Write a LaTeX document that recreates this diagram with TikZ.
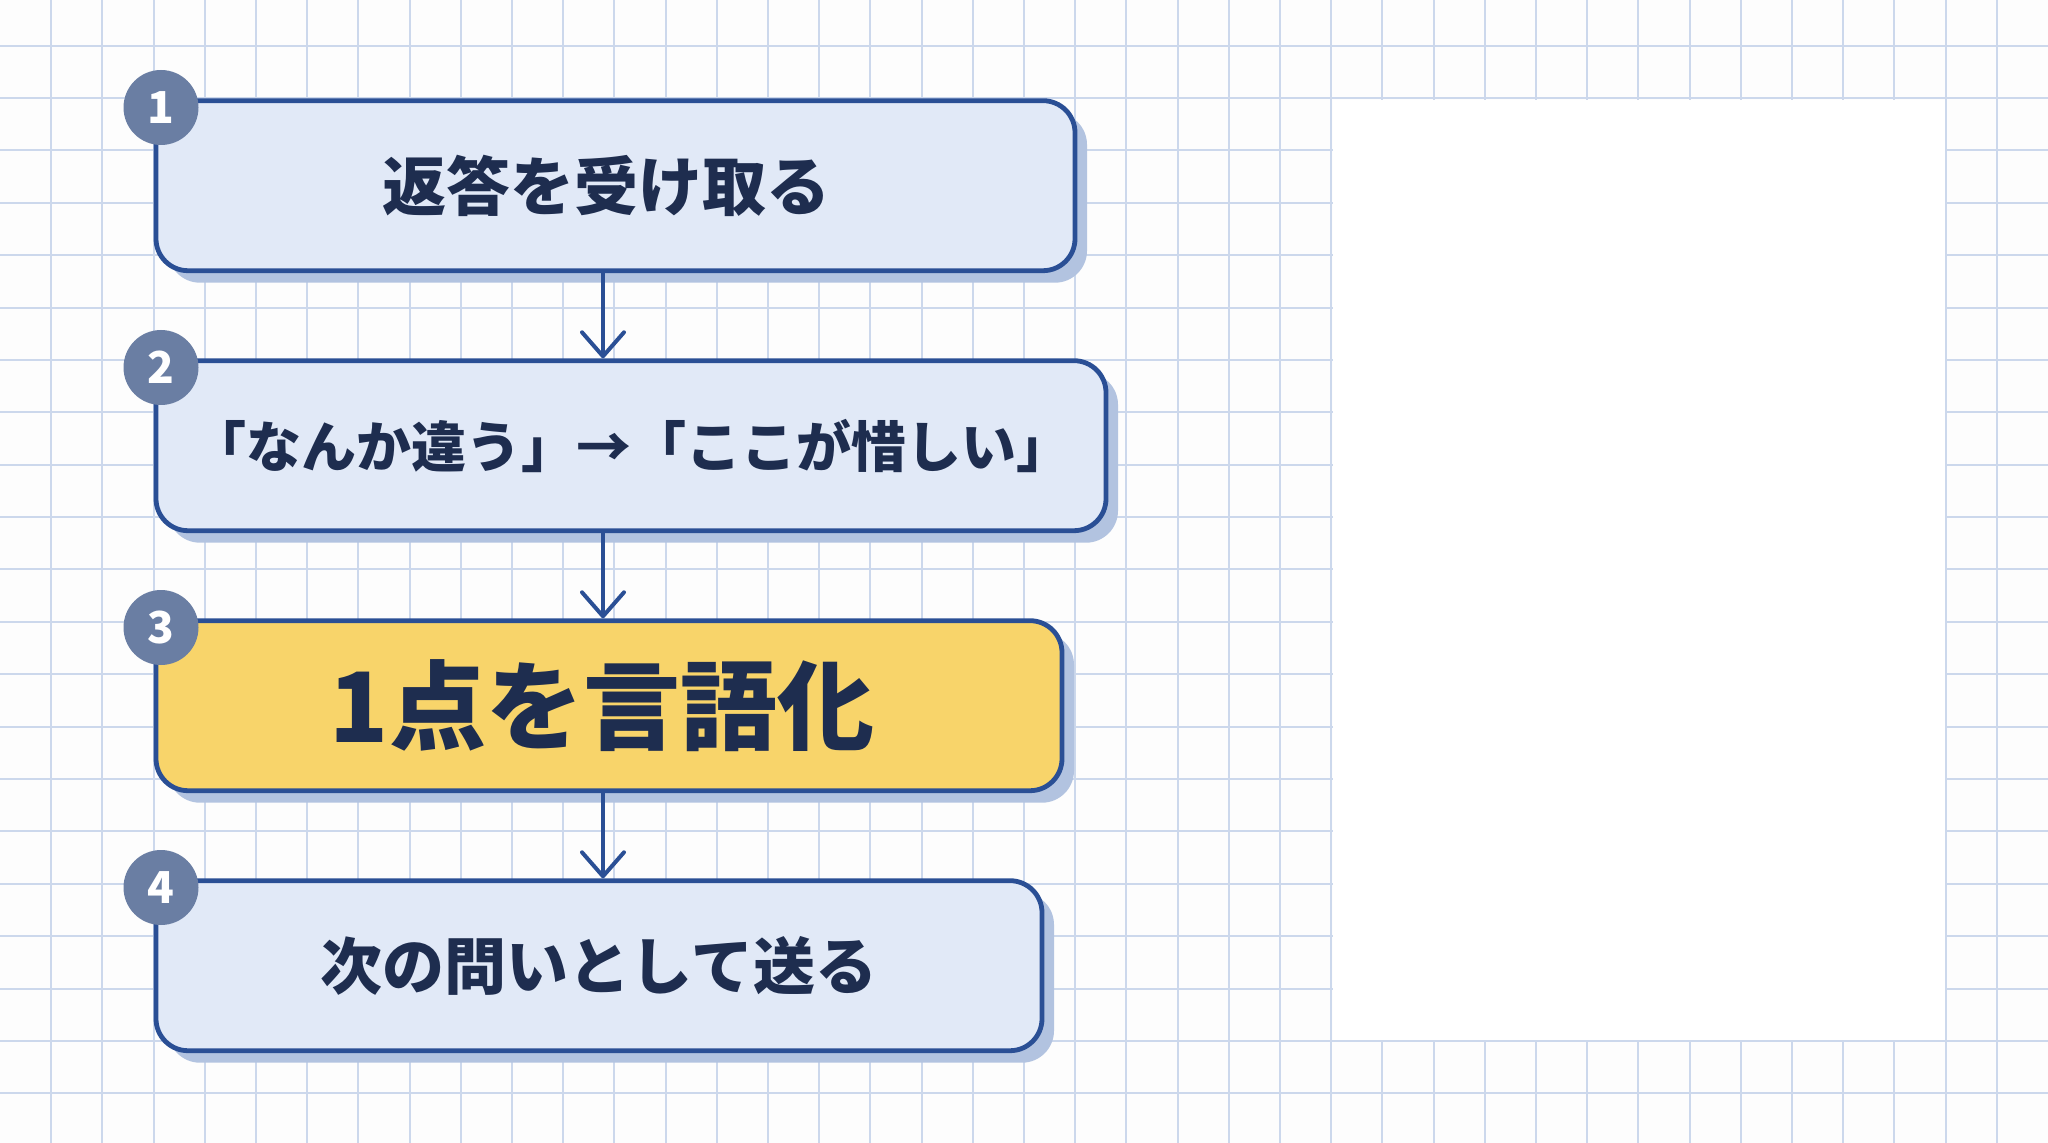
\documentclass[tikz,border=0pt]{standalone}
\usepackage{fontspec}
\newfontfamily\cjk{Noto Sans CJK JP}
\usetikzlibrary{arrows.meta,shadows}
\definecolor{gridc}{HTML}{CCD8EC}
\definecolor{boxfill}{HTML}{E1E9F7}
\definecolor{boxline}{HTML}{2A4F95}
\definecolor{shadowc}{HTML}{B2C3E0}
\definecolor{hlfill}{HTML}{F8D46A}
\definecolor{numc}{HTML}{6A7EA3}
\definecolor{txt}{HTML}{1E2D4F}
\definecolor{bg}{HTML}{FDFDFD}
\begin{document}
\begin{tikzpicture}[x=0.5pt,y=-0.5pt,
  stepbox/.style={draw=boxline, line width=2.4pt, rounded corners=16pt, fill=boxfill,
    minimum height=85pt, inner sep=0pt,
    drop shadow={shadow xshift=6pt, shadow yshift=-6pt, fill=shadowc, opacity=1},
    text=txt, font=\cjk\bfseries\fontsize{32pt}{36pt}\selectfont},
  numdot/.style={circle, fill=numc, minimum size=37.5pt, inner sep=0pt, text=white,
    font=\cjk\bfseries\fontsize{22pt}{24pt}\selectfont},
  flow/.style={draw=boxline, line width=2pt, -{Straight Barb[length=12pt,width=21pt,round]}},
  gridline/.style={draw=gridc, line width=1pt}]
\useasboundingbox (0,0) rectangle (2048,1143);
\fill[bg] (0,0) rectangle (2048,1143);
% grid
\foreach \k in {1,...,39} \draw[gridline] (\k*51.2,0) -- (\k*51.2,1143);
\foreach \k in {0,...,20} \draw[gridline] (0,45.7+\k*52.38) -- (2048,45.7+\k*52.38);
% blank panel on the right
\fill[white] (1332.6,99.9) rectangle (1944.8,1039.9);
% boxes
\node[stepbox, minimum width=459.5pt] (b1) at (615.5,185.7) {返答を受け取る\rule{9pt}{0pt}};
\node[stepbox, minimum width=475pt] (b2) at (631,445.7) {\fontsize{27.5pt}{32pt}\selectfont 「なんか違う」→「ここが惜しい」};
\node[stepbox, fill=hlfill, minimum width=453pt] (b3) at (609,705.7) {\fontsize{48.5pt}{56pt}\selectfont 1点を言語化\rule{7pt}{0pt}};
\node[stepbox, minimum width=443pt] (b4) at (599,965.7) {\fontsize{31pt}{36pt}\selectfont 次の問いとして送る};
% connectors
\coordinate (ax) at (603,0);
\draw[flow] (ax |- b1.south) -- (ax |- b2.north);
\draw[flow] (ax |- b2.south) -- (ax |- b3.north);
\draw[flow] (ax |- b3.south) -- (ax |- b4.north);
% number badges
\node[numdot] (n1) at (161,107.5) {1};
\node[numdot] (n2) at (161,367.5) {2};
\node[numdot] (n3) at (161,627.5) {3};
\node[numdot] (n4) at (161,887.5) {4};
\end{tikzpicture}
\end{document}
